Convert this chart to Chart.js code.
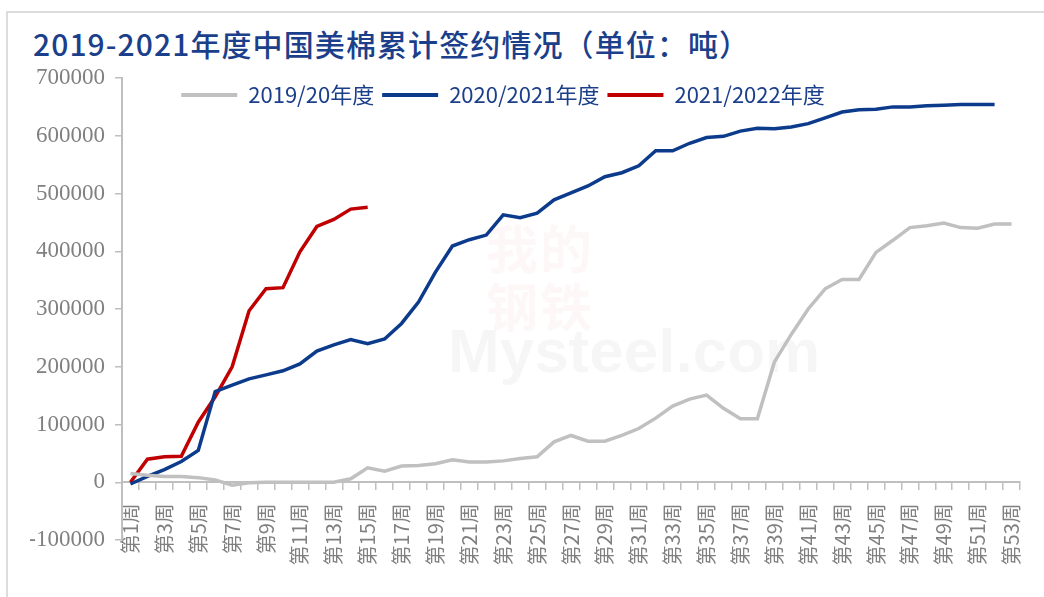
<!DOCTYPE html>
<html>
<head>
<meta charset="utf-8">
<script src="https://cdn.jsdelivr.net/npm/chart.js@4"></script>
<style>
  html, body { margin: 0; padding: 0; background: #fff; }
  .page { position: relative; width: 1044px; height: 597px; overflow: hidden; }
  .frame { position: absolute; left: 6px; top: 11px; width: 1100px; height: 700px;
    border-top: 2px solid #dcdcdc; border-left: 2px solid #dcdcdc; }
  .chart-title { position: absolute; left: 33px; top: 21px; font-family: "Noto Sans CJK SC", sans-serif;
    font-size: 30px; font-weight: 500; color: #1b3f8b; letter-spacing: 1.1px; white-space: nowrap; }
  .wm-cn { position: absolute; left: 486px; top: 218px; width: 112px; font-family: "Noto Sans CJK SC", serif;
    font-size: 52px; line-height: 58px; font-weight: bold; color: rgba(200, 60, 60, 0.045); letter-spacing: 2px; }
  .wm-en { position: absolute; left: 448px; top: 315px; font-family: "Liberation Sans", sans-serif;
    font-size: 62px; font-weight: bold; color: rgba(0, 0, 0, 0.035); }
  canvas { position: absolute; left: 0; top: 0; }
</style>
</head>
<body>
<div class="page">
  <div class="frame"></div>
  <div class="chart-title">2019-2021年度中国美棉累计签约情况（单位：吨）</div>
  <div class="wm-cn">我的<br>钢铁</div>
  <div class="wm-en">Mysteel.com</div>
  <canvas id="myChart" width="1044" height="597"></canvas>
</div>
<script>
const weeks = ['第1周','第2周','第3周','第4周','第5周','第6周','第7周','第8周','第9周','第10周',
  '第11周','第12周','第13周','第14周','第15周','第16周','第17周','第18周','第19周','第20周',
  '第21周','第22周','第23周','第24周','第25周','第26周','第27周','第28周','第29周','第30周',
  '第31周','第32周','第33周','第34周','第35周','第36周','第37周','第38周','第39周','第40周',
  '第41周','第42周','第43周','第44周','第45周','第46周','第47周','第48周','第49周','第50周',
  '第51周','第52周','第53周']

const season1920 = [15000, 12000, 10000, 10000, 8000, 4000, -5000, -1000, 0, 0,
  0, 0, 0, 6000, 25000, 19000, 28000, 29000, 32000, 39000,
  35000, 35000, 37000, 41000, 44000, 70000, 81000, 71000, 71000, 81000,
  93000, 111000, 132000, 144000, 151000, 128000, 110000, 110000, 208000, 256000,
  300000, 335000, 351000, 351000, 398000, 419000, 441000, 444000, 449000, 441000,
  440000, 447000, 447000]

const season2021 = [-3000, 10000, 22000, 36000, 55000, 157000, 168000, 179000, 186000, 193000,
  205000, 227000, 238000, 247000, 240000, 248000, 275000, 312000, 364000, 409000,
  420000, 428000, 463000, 458000, 466000, 489000, 501000, 513000, 529000, 536000,
  548000, 574000, 574000, 587000, 597000, 599000, 608000, 613000, 612000, 615000,
  621000, 631000, 641000, 645000, 646000, 650000, 650000, 652000, 653000, 654000,
  654000, 654000]

const season2122 = [0, 40000, 44000, 45000, 104000, 148000, 200000, 297000, 335000, 337000,
  399000, 443000, 455000, 473000, 476000]

const seriesNames = ['2019/20年度', '2020/2021年度', '2021/2022年度']
const yTicks = [-100000, 0, 100000, 200000, 300000, 400000, 500000, 600000, 700000]

const axisGray = '#bfbfbf'
const labelGray = '#808080'
const navy = '#1b3f8b'

const makeLine = (label, values, color) => ({
  label: label,
  data: values,
  borderColor: color,
  backgroundColor: color,
  borderWidth: 3.5,
  pointRadius: 0,
  tension: 0,
  clip: false
})

const data = {
  labels: weeks,
  datasets: [
    makeLine(seriesNames[0], season1920, '#c0c0c0'),
    makeLine(seriesNames[1], season2021, '#0d3b8c'),
    makeLine(seriesNames[2], season2122, '#c00000')
  ]
}

// legend sits inside the plot in the original, a bit left of centre
const legendShift = {
  id: 'legendShift',
  afterLayout(chart) {
    const lg = chart.legend
    const h = lg.bottom - lg.top
    lg.top = chart.chartArea.top - 2
    lg.bottom = lg.top + h
    lg.left -= 22
    lg.right -= 22
  }
}

const config = {
  type: 'line',
  data: data,
  plugins: [legendShift],
  options: {
    responsive: false,
    animation: false,
    layout: { padding: { left: 30, right: 24, top: 38, bottom: 57 } },
    plugins: {
      tooltip: { enabled: false },
      legend: {
        position: 'top',
        labels: {
          boxWidth: 56,
          boxHeight: 4,
          padding: 8,
          color: navy,
          font: { family: '"Noto Sans CJK SC", sans-serif', size: 22 },
          generateLabels: (chart) => Chart.defaults.plugins.legend.labels.generateLabels(chart)
            .map(item => Object.assign(item, { lineWidth: 0, fillStyle: item.strokeStyle }))
        }
      }
    },
    scales: {
      x: {
        position: { y: 0 },
        offset: true,
        afterFit: (s) => { s.height = 1; s.paddingLeft = 0; s.paddingRight = 0 },
        grid: { offset: true, drawOnChartArea: false, drawTicks: true, tickLength: 7, color: axisGray, lineWidth: 1.5 },
        border: { color: axisGray, width: 2 },
        ticks: {
          autoSkip: false,
          maxRotation: 90,
          minRotation: 90,
          padding: 14,
          color: labelGray,
          font: { family: '"Noto Sans CJK SC", sans-serif', size: 20 },
          callback: function(val, idx) { return idx % 2 === 0 ? this.getLabelForValue(val) : '' }
        }
      },
      y: {
        min: yTicks[0],
        max: yTicks[yTicks.length - 1],
        afterFit: (s) => { s.width = 92 },
        afterBuildTicks: (s) => { s.ticks = yTicks.map(v => ({ value: v })) },
        grid: { drawOnChartArea: false, drawTicks: true, tickLength: 7, color: axisGray, lineWidth: 1.5 },
        border: { color: axisGray, width: 2 },
        ticks: {
          padding: 10,
          color: labelGray,
          font: { family: '"Liberation Serif", serif', size: 23 },
          callback: (v) => String(v)
        }
      }
    }
  }
}

const createChart = () => {
  const canvas = document.getElementById('myChart')
  const myChart = new Chart(canvas, config)
}

createChart()
</script>
</body>
</html>
